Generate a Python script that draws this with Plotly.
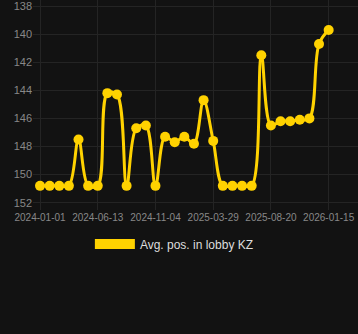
import plotly.graph_objects as go

dates = [
    "2024-01-01", "2024-01-28", "2024-02-24", "2024-03-22", "2024-04-18", "2024-05-16",
    "2024-06-13", "2024-07-07", "2024-07-31", "2024-08-24", "2024-09-17", "2024-10-11",
    "2024-11-04", "2024-11-28", "2024-12-22", "2025-01-15", "2025-02-08", "2025-03-05",
    "2025-03-29", "2025-04-23", "2025-05-18", "2025-06-12", "2025-07-07", "2025-07-31",
    "2025-08-20", "2025-09-14", "2025-10-09", "2025-11-03", "2025-11-28", "2025-12-22",
    "2026-01-15",
]
avg_pos = [
    150.8, 150.8, 150.8, 150.8, 147.5, 150.8,
    150.8, 144.2, 144.3, 150.8, 146.7, 146.5,
    150.8, 147.3, 147.7, 147.3, 147.8, 144.7,
    147.6, 150.8, 150.8, 150.8, 150.8, 141.5,
    146.5, 146.2, 146.2, 146.1, 146.0, 140.7,
    139.7,
]
tick_labels = ["2024-01-01", "2024-06-13", "2024-11-04", "2025-03-29", "2025-08-20", "2026-01-15"]
y_ticks = [138, 140, 142, 144, 146, 148, 150, 152]
series_name = "Avg. pos. in lobby KZ"

gold = "#FFD200"
bg = "#121212"
grid = "#242424"

fig = go.Figure()
fig.add_trace(go.Scatter(
    x=dates, y=avg_pos, mode="lines+markers",
    line=dict(color=gold, width=3, shape="spline", smoothing=1.0),
    marker=dict(color=gold, size=10),
    showlegend=False, name=series_name,
))
fig.add_trace(go.Scatter(
    x=[None], y=[None], mode="lines",
    line=dict(color=gold, width=12),
    name=series_name, showlegend=True,
))

fig.update_layout(
    width=358, height=334,
    margin=dict(l=33, r=0, t=0, b=124),
    paper_bgcolor=bg, plot_bgcolor=bg,
    font=dict(family="Arial, Liberation Sans, sans-serif", color="#888888"),
    showlegend=True,
    legend=dict(
        orientation="h", x=0.435, xanchor="center", y=-0.162, yanchor="middle",
        font=dict(size=12, color="#dddddd"), itemwidth=40,
        bgcolor="rgba(0,0,0,0)",
    ),
    xaxis=dict(
        type="category", range=[-0.73, 33.05],
        tickmode="array", tickvals=tick_labels, ticktext=tick_labels,
        showgrid=True, gridcolor=grid, gridwidth=1,
        zeroline=False, showline=False,
        tickfont=dict(size=10, color="#888888"),
    ),
    yaxis=dict(
        range=[152.52, 137.57],
        tickmode="array", tickvals=y_ticks,
        showgrid=True, gridcolor=grid, gridwidth=1,
        zeroline=False, showline=False,
        ticklabeloverflow="allow",
        tickfont=dict(size=11, color="#888888"),
    ),
)

fig.write_html("out.html")
